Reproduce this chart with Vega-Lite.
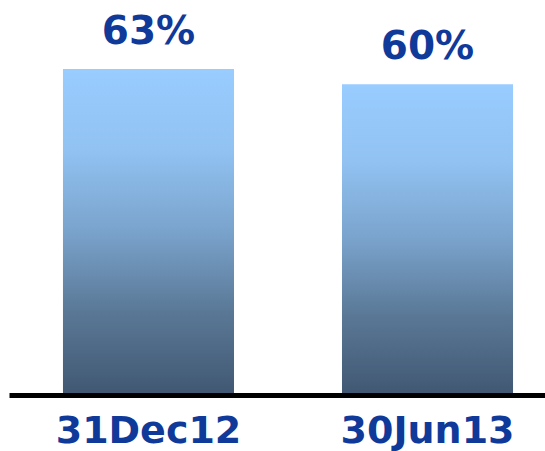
{
  "$schema": "https://vega.github.io/schema/vega-lite/v6.json",
  "autosize": {"type": "none"},
  "width": 536,
  "height": 393,
  "padding": {"left": 9, "top": 0, "right": 0, "bottom": 58},
  "background": "white",
  "config": {"view": {"stroke": null}},
  "data": {"values": [
    {"date": "31Dec12", "value": 63, "label": "63%"},
    {"date": "30Jun13", "value": 60, "label": "60%"}
  ]},
  "encoding": {
    "x": {
      "field": "date", "type": "nominal", "sort": null,
      "scale": {"paddingInner": 0.387, "paddingOuter": 0.154, "align": 0.628},
      "axis": {
        "title": null, "labelAngle": 0, "ticks": false, "labelLimit": 0,
        "domainColor": "black", "domainWidth": 5, "offset": 2,
        "labelFont": "DejaVu Sans", "labelFontWeight": "bold", "labelFontSize": 38,
        "labelColor": "#0f3a99", "labelPadding": 17
      }
    },
    "y": {
      "field": "value", "type": "quantitative",
      "scale": {"domain": [0, 76.4], "nice": false, "zero": true},
      "axis": null
    }
  },
  "layer": [
    {
      "mark": {
        "type": "bar",
        "color": {
          "gradient": "linear", "x1": 0, "y1": 0, "x2": 0, "y2": 1,
          "stops": [
            {"offset": 0, "color": "#99ccff"},
            {"offset": 0.25, "color": "#91c2f2"},
            {"offset": 0.5, "color": "#7aa3cc"},
            {"offset": 0.75, "color": "#5a7896"},
            {"offset": 1, "color": "#415873"}
          ]
        }
      }
    },
    {
      "mark": {
        "type": "text", "baseline": "alphabetic", "dy": -25,
        "font": "DejaVu Sans", "fontWeight": "bold", "fontSize": 39, "color": "#0f3a99"
      },
      "encoding": {"text": {"field": "label"}}
    }
  ]
}
